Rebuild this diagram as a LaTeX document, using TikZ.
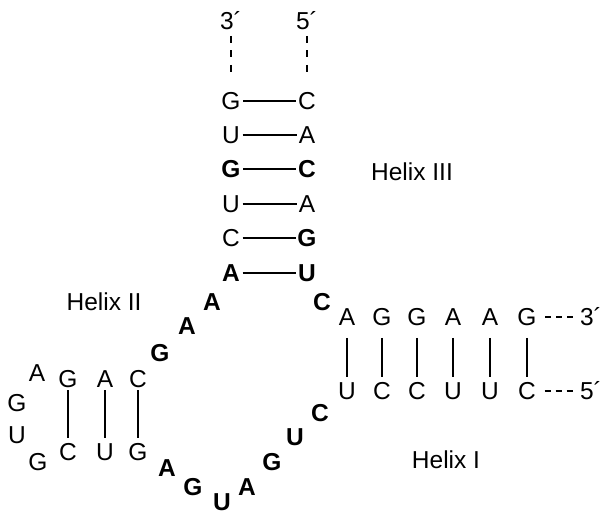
\documentclass[tikz,border=0pt]{standalone}
\usepackage{fontspec}
\setmainfont{Liberation Sans}
\begin{document}
\begin{tikzpicture}[x=1pt,y=-1pt,
    nt/.style={inner sep=0pt,text height=17.5pt,text depth=0pt,font=\fontsize{24.5}{24.5}\selectfont},
    ntb/.style={nt,font=\fontsize{24.5}{24.5}\selectfont\bfseries},
    hpair/.style={line width=1.4pt,shorten <=2.5pt,shorten >=1.5pt},
    pairone/.style={line width=1.4pt,shorten <=12pt,shorten >=5pt},
    pairtwo/.style={line width=1.4pt,shorten <=2.5pt,shorten >=5pt},
    endv/.style={line width=1.4pt,dash pattern=on 7pt off 7.5pt,shorten <=6pt,shorten >=20pt},
    endh/.style={line width=1.4pt,dash pattern=on 6pt off 5pt,shorten <=8.5pt,shorten >=7pt}]
    \useasboundingbox (0,0) rectangle (604,515);

    \node[nt] (p3t) at (231,21) {3´};
    \node[nt] (p5t) at (307,21) {5´};
    \node[nt] (l1) at (231,101) {G};
    \node[nt] (l2) at (231,135) {U};
    \node[ntb] (l3) at (231,169) {G};
    \node[nt] (l4) at (231,204) {U};
    \node[nt] (l5) at (231,238) {C};
    \node[ntb] (l6) at (231,273) {A};
    \node[nt] (r1) at (307,101) {C};
    \node[nt] (r2) at (307,135) {A};
    \node[ntb] (r3) at (307,169) {C};
    \node[nt] (r4) at (307,204) {A};
    \node[ntb] (r5) at (307,238) {G};
    \node[ntb] (r6) at (307,273) {U};
    \draw[endv] (p3t)--(l1);
    \draw[endv] (p5t)--(r1);
    \foreach \i in {1,...,6}
        \draw[hpair] (l\i)--(r\i);
    \node[nt] (helix3) at (412,172) {Helix III};

    \node[ntb] (ja1) at (212,302) {A};
    \node[ntb] (ja2) at (187,326) {A};
    \node[ntb] (jg) at (160,353) {G};
    \node[nt] (helix2) at (104,302) {Helix II};

    \node[nt] (h1) at (68,379) {G};
    \node[nt] (h2) at (105,379) {A};
    \node[nt] (h3) at (138,379) {C};
    \node[nt] (k1) at (68,452) {C};
    \node[nt] (k2) at (105,452) {U};
    \node[nt] (k3) at (138,452) {G};
    \node[nt] (lpa) at (37,373) {A};
    \node[nt] (lpg) at (17,403) {G};
    \node[nt] (lpu) at (17,435) {U};
    \node[nt] (lpg2) at (38,462) {G};
    \foreach \i in {1,2,3}
        \draw[pairtwo] (h\i)--(k\i);

    \node[ntb] (ba1) at (167,468) {A};
    \node[ntb] (bg1) at (193,487) {G};
    \node[ntb] (bu1) at (222,502) {U};
    \node[ntb] (ba2) at (247,487) {A};
    \node[ntb] (bg2) at (272,462) {G};
    \node[ntb] (bu2) at (295,437) {U};
    \node[ntb] (bc) at (320,413) {C};
    \node[ntb] (jc) at (322,302) {C};

    \node[nt] (t1) at (347,317) {A};
    \node[nt] (t2) at (382,317) {G};
    \node[nt] (t3) at (417,317) {G};
    \node[nt] (t4) at (453,317) {A};
    \node[nt] (t5) at (490,317) {A};
    \node[nt] (t6) at (527,317) {G};
    \node[nt] (b1) at (347,391) {U};
    \node[nt] (b2) at (382,391) {C};
    \node[nt] (b3) at (417,391) {C};
    \node[nt] (b4) at (453,391) {U};
    \node[nt] (b5) at (490,391) {U};
    \node[nt] (b6) at (527,391) {C};
    \node[nt] (p3r) at (591,317) {3´};
    \node[nt] (p5r) at (591,391) {5´};
    \foreach \i in {1,...,6}
        \draw[pairone] (t\i)--(b\i);
    \draw[endh] (t6)--(p3r);
    \draw[endh] (b6)--(p5r);
    \node[nt] (helix1) at (446,460) {Helix I};
\end{tikzpicture}
\end{document}
